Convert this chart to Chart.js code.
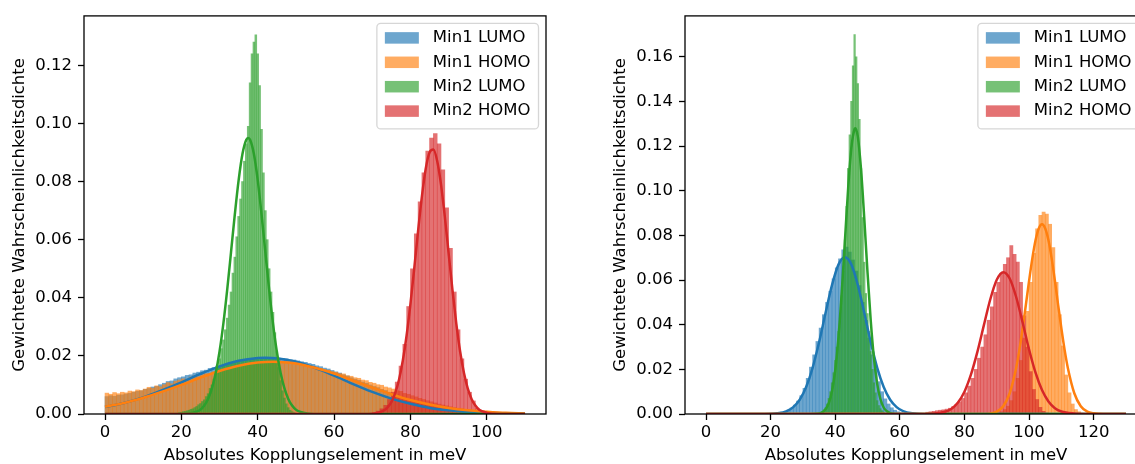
<!DOCTYPE html>
<html>
<head>
<meta charset="utf-8">
<script src="https://cdn.jsdelivr.net/npm/chart.js@4.4.1/dist/chart.umd.min.js"></script>
<style>
  html, body { margin: 0; padding: 0; background: #fff; overflow: hidden; width: 1135px; height: 464px; }
  canvas { position: absolute; top: 0; }
  #leftPanel { left: 0; }
  #rightPanel { left: 601px; }
</style>
</head>
<body>
<canvas id="leftPanel" width="567" height="464"></canvas>
<canvas id="rightPanel" width="567" height="464"></canvas>
<script>
// ---- labels ----
const seriesLabels = ['Min1 LUMO', 'Min1 HOMO', 'Min2 LUMO', 'Min2 HOMO'];
const xTitle = 'Absolutes Kopplungselement in meV';
const yTitle = 'Gewichtete Wahrscheinlichkeitsdichte';

// ---- tick labels ----
const leftXTicks = [0, 20, 40, 60, 80, 100];
const leftYTicks = [0, 0.02, 0.04, 0.06, 0.08, 0.10, 0.12];
const rightXTicks = [0, 20, 40, 60, 80, 100, 120];
const rightYTicks = [0, 0.02, 0.04, 0.06, 0.08, 0.10, 0.12, 0.14, 0.16];

// ---- histogram densities: lower edge of first bin, bin width (meV), values ----
const leftMin1LumoStart = 0, leftMin1LumoBin = 1;
const leftMin1Lumo = [
  0.0060,0.0063,0.0061,0.0065,0.0066, 0.0069,0.0071,0.0075,0.0078,0.0080,
  0.0085,0.0088,0.0093,0.0095,0.0101, 0.0106,0.0112,0.0114,0.0121,0.0125,
  0.0128,0.0133,0.0135,0.0141,0.0144, 0.0149,0.0151,0.0157,0.0160,0.0165,
  0.0166,0.0171,0.0173,0.0177,0.0178, 0.0182,0.0185,0.0186,0.0189,0.0190,
  0.0191,0.0193,0.0192,0.0194,0.0193, 0.0192,0.0191,0.0190,0.0187,0.0186,
  0.0183,0.0180,0.0178,0.0174,0.0171, 0.0166,0.0163,0.0158,0.0155,0.0150,
  0.0145,0.0141,0.0135,0.0131,0.0125, 0.0120,0.0116,0.0110,0.0106,0.0100,
  0.0095,0.0091,0.0085,0.0081,0.0075, 0.0070,0.0066,0.0060,0.0056,0.0050,
  0.0046,0.0042,0.0038,0.0034,0.0030, 0.0027,0.0024,0.0021,0.0018,0.0016,
  0.0014,0.0012,0.0010,0.0008,0.0007, 0.0006,0.0005,0.0004,0.0003,0.0002
];
const leftMin1HomoStart = 0, leftMin1HomoBin = 1;
const leftMin1Homo = [
  0.0072,0.0068,0.0074,0.0070,0.0075, 0.0073,0.0079,0.0077,0.0083,0.0081,
  0.0086,0.0092,0.0089,0.0097,0.0094, 0.0101,0.0108,0.0104,0.0113,0.0117,
  0.0121,0.0119,0.0127,0.0131,0.0129, 0.0136,0.0139,0.0137,0.0145,0.0148,
  0.0150,0.0155,0.0153,0.0160,0.0162, 0.0165,0.0166,0.0170,0.0171,0.0174,
  0.0173,0.0177,0.0176,0.0179,0.0177, 0.0178,0.0175,0.0177,0.0174,0.0172,
  0.0171,0.0167,0.0168,0.0163,0.0162, 0.0158,0.0157,0.0152,0.0151,0.0146,
  0.0144,0.0139,0.0138,0.0132,0.0130, 0.0125,0.0123,0.0117,0.0115,0.0109,
  0.0106,0.0101,0.0099,0.0093,0.0090, 0.0086,0.0080,0.0078,0.0071,0.0068,
  0.0063,0.0059,0.0054,0.0050,0.0046, 0.0042,0.0038,0.0034,0.0031,0.0028,
  0.0025,0.0022,0.0020,0.0018,0.0016, 0.0014,0.0012,0.0011,0.0010,0.0009,
  0.0008,0.0007,0.0006,0.0006,0.0005, 0.0005,0.0004,0.0004,0.0003,0.0003
];
const leftMin2LumoStart = 17.75, leftMin2LumoBin = 0.5;
const leftMin2Lumo = [
  0.0002,0.0002,0.0003,0.0005,0.0006,0.0008,0.0009,0.0011,0.0013,0.0016,
  0.0018,0.0022,0.0026,0.0032,0.0036,0.0043,0.0049,0.0060,0.0070,0.0088,
  0.0100,0.0120,0.0138,0.0162,0.0190,0.0225,0.0255,0.0290,0.0330,0.0375,
  0.0420,0.0485,0.0540,0.0610,0.0680,0.0740,0.0800,0.0870,0.0930,0.0990,
  0.1140,0.1240,0.1280,0.1305,0.1240,0.1130,0.0980,0.0830,0.0700,0.0600,
  0.0500,0.0420,0.0350,0.0280,0.0215,0.0160,0.0115,0.0080,0.0055,0.0035,
  0.0022,0.0013,0.0008,0.0005,0.0002
];
const leftMin2HomoStart = 70, leftMin2HomoBin = 1;
const leftMin2Homo = [
  0.0005,0.0010,0.0018,0.0030,0.0050,0.0075,0.0110,0.0165,0.0240,0.0370,
  0.0500,0.0620,0.0730,0.0830,0.0905,0.0950,0.0965,0.0930,0.0840,0.0710,
  0.0570,0.0420,0.0290,0.0190,0.0120,0.0075,0.0045,0.0020,0.0008,0.0003
];

const rightMin1LumoStart = 21, rightMin1LumoBin = 1;
const rightMin1Lumo = [
  0.0002,0.0005,0.0008,0.0012,0.0018,0.0027,0.0040,0.0058,0.0082,0.0115,
  0.0160,0.0210,0.0265,0.0325,0.0385,0.0445,0.0500,0.0550,0.0605,0.0655,
  0.0695,0.0735,0.0748,0.0725,0.0690,0.0640,0.0575,0.0500,0.0420,0.0340,
  0.0265,0.0200,0.0145,0.0100,0.0068,0.0045,0.0028,0.0017,0.0010,0.0006,
  0.0003,0.0001
];
const rightMin1HomoStart = 90, rightMin1HomoBin = 1;
const rightMin1Homo = [
  0.0005,0.0010,0.0020,0.0035,0.0060,0.0100,0.0160,0.0240,0.0340,0.0460,
  0.0590,0.0720,0.0830,0.0890,0.0905,0.0895,0.0850,0.0745,0.0590,0.0445,
  0.0305,0.0175,0.0095,0.0045,0.0020,0.0010,0.0004,0.0002
];
const rightMin2LumoStart = 34.75, rightMin2LumoBin = 0.5;
const rightMin2Lumo = [
  0.0004,0.0007,0.0012,0.0019,0.0028,0.0045,0.0070,0.0100,0.0140,0.0185,
  0.0240,0.0300,0.0370,0.0440,0.0530,0.0640,0.0780,0.0930,0.1100,0.1250,
  0.1400,0.1560,0.1700,0.1600,0.1480,0.1320,0.1100,0.0880,0.0680,0.0540,
  0.0450,0.0370,0.0280,0.0200,0.0140,0.0095,0.0060,0.0038,0.0024,0.0015,
  0.0009,0.0005,0.0003,0.0002,0.0001
];
const rightMin2HomoStart = 68, rightMin2HomoBin = 1;
const rightMin2Homo = [
  0.0008,0.0010,0.0012,0.0015,0.0017,0.0019,0.0022,0.0026,0.0033,0.0043,
  0.0055,0.0070,0.0095,0.0125,0.0160,0.0200,0.0250,0.0300,0.0355,0.0420,
  0.0480,0.0545,0.0590,0.0630,0.0670,0.0700,0.0755,0.0715,0.0680,0.0590,
  0.0440,0.0300,0.0190,0.0110,0.0065,0.0030,0.0012,0.0005
];

// ---- fitted density curves, [meV, density] ----
const leftFitMin1Lumo = [[0,0.0024],[5,0.0038],[10,0.0057],[15,0.0082],[20,0.0109],[25,0.0138],[30,0.0164],[35,0.0183],[40,0.0193],[42,0.0194],[45,0.0192],[50,0.0180],[55,0.0159],[60,0.0132],[65,0.0103],[70,0.0076],[75,0.0053],[80,0.0035],[85,0.0021],[90,0.0013],[95,0.0007],[100,0.0004],[105,0.0002],[110,0.0001]];
const leftFitMin1Homo = [[0,0.0025],[5,0.0038],[10,0.0056],[15,0.0077],[20,0.0100],[25,0.0125],[30,0.0148],[35,0.0166],[40,0.0177],[44,0.0180],[48,0.0177],[50,0.0174],[55,0.0159],[60,0.0139],[65,0.0115],[70,0.0091],[75,0.0068],[80,0.0048],[85,0.0033],[90,0.0021],[95,0.0013],[100,0.0008],[105,0.0004],[110,0.0002]];
const leftFitMin2Lumo = [[0,0],[18,0],[22,0.0002],[24,0.0008],[25,0.0015],[26,0.0029],[27,0.0052],[28,0.0088],[29,0.0141],[30,0.0215],[31,0.0311],[32,0.0427],[33,0.0556],[34,0.0687],[35,0.0805],[36,0.0895],[37,0.0944],[37.5,0.0950],[38,0.0944],[39,0.0895],[40,0.0805],[41,0.0687],[42,0.0556],[43,0.0427],[44,0.0311],[45,0.0215],[46,0.0141],[47,0.0088],[48,0.0052],[49,0.0029],[50,0.0015],[51,0.0008],[53,0.0002],[57,0],[110,0]];
const leftFitMin2Homo = [[0,0],[66,0],[71,0.0003],[73,0.0012],[74,0.0023],[75,0.0041],[76,0.0072],[77,0.0118],[78,0.0184],[79,0.0271],[80,0.0379],[81,0.0502],[82,0.0630],[83,0.0749],[84,0.0844],[85,0.0900],[86,0.0910],[87,0.0871],[88,0.0790],[89,0.0679],[90,0.0553],[91,0.0427],[92,0.0312],[93,0.0216],[94,0.0142],[95,0.0088],[96,0.0052],[97,0.0029],[98,0.0015],[100,0.0004],[103,0],[110,0]];

const rightFitMin1Lumo = [[0,0],[18,0],[22,0.0003],[25,0.0013],[27,0.0031],[29,0.0064],[31,0.0121],[33,0.0207],[35,0.0321],[37,0.0452],[39,0.0577],[41,0.0669],[43,0.0702],[45,0.0669],[47,0.0577],[49,0.0452],[51,0.0321],[53,0.0207],[55,0.0121],[57,0.0064],[59,0.0031],[61,0.0013],[64,0.0003],[68,0],[130,0]];
const rightFitMin1Homo = [[0,0],[86,0],[90,0.0011],[92,0.0035],[94,0.0093],[96,0.0206],[97,0.0287],[98,0.0383],[99,0.0488],[100,0.0596],[101,0.0696],[102,0.0778],[103,0.0831],[104,0.0850],[105,0.0831],[106,0.0778],[107,0.0696],[108,0.0596],[109,0.0488],[110,0.0383],[111,0.0287],[112,0.0206],[114,0.0093],[116,0.0035],[118,0.0011],[120,0.0003],[123,0],[130,0]];
const rightFitMin2Lumo = [[0,0],[30,0],[34,0.0001],[36,0.0008],[37,0.0021],[38,0.0048],[39,0.0102],[40,0.0196],[41,0.0342],[42,0.0541],[43,0.0776],[44,0.1011],[45,0.1193],[46,0.1277],[46.2,0.1280],[47,0.1241],[48,0.1093],[49,0.0873],[50,0.0632],[51,0.0416],[52,0.0248],[53,0.0134],[54,0.0066],[55,0.0029],[56,0.0012],[57,0.0004],[59,0],[130,0]];
const rightFitMin2Homo = [[0,0],[66,0],[70,0.0001],[74,0.0010],[76,0.0024],[78,0.0052],[80,0.0100],[82,0.0176],[84,0.0278],[86,0.0397],[88,0.0514],[90,0.0601],[92,0.0635],[94,0.0607],[96,0.0524],[98,0.0410],[100,0.0289],[102,0.0185],[104,0.0107],[106,0.0056],[108,0.0026],[110,0.0011],[114,0.0002],[118,0],[130,0]];

// ---- styling ----
const FONT = 'DejaVu Sans';
const FONT_SIZE = 16.5;
const seriesRgb = ['31,119,180', '255,127,14', '44,160,44', '214,39,40'];
const HIST_ALPHA = 0.65;

Chart.defaults.font.family = FONT;
Chart.defaults.font.size = FONT_SIZE;
Chart.defaults.color = '#000';

function histPoints(start, width, values) {
  return values.map((v, i) => ({ x: start + (i + 0.5) * width, y: v }));
}
function curvePoints(pairs) {
  return pairs.map(([x, y]) => ({ x, y }));
}

// axes frame and the boxed legend in the upper right corner
const frameAndLegend = {
  id: 'frameAndLegend',
  afterDraw(chart) {
    const { ctx, chartArea: a } = chart;
    ctx.save();
    ctx.lineWidth = 1.3;
    ctx.strokeStyle = '#000';
    ctx.strokeRect(a.left, a.top, a.right - a.left, a.bottom - a.top);

    ctx.font = FONT_SIZE + 'px "' + FONT + '"';
    const bars = chart.data.datasets.filter(d => d.type === 'bar');
    const textW = Math.max(...bars.map(d => ctx.measureText(d.label).width));
    const w = 8 + 34 + 14 + textW + 8;
    const h = 105.5;
    const x0 = a.right - 7.5 - w;
    const y0 = a.top + 7.5;
    const r = 4;
    ctx.beginPath();
    ctx.moveTo(x0 + r, y0);
    ctx.lineTo(x0 + w - r, y0);
    ctx.arcTo(x0 + w, y0, x0 + w, y0 + r, r);
    ctx.lineTo(x0 + w, y0 + h - r);
    ctx.arcTo(x0 + w, y0 + h, x0 + w - r, y0 + h, r);
    ctx.lineTo(x0 + r, y0 + h);
    ctx.arcTo(x0, y0 + h, x0, y0 + h - r, r);
    ctx.lineTo(x0, y0 + r);
    ctx.arcTo(x0, y0, x0 + r, y0, r);
    ctx.closePath();
    ctx.fillStyle = 'rgba(255,255,255,0.8)';
    ctx.fill();
    ctx.strokeStyle = 'rgba(204,204,204,0.8)';
    ctx.lineWidth = 1.3;
    ctx.stroke();

    ctx.textBaseline = 'middle';
    ctx.textAlign = 'left';
    bars.forEach((d, i) => {
      const cy = a.top + 22 + i * 24.4;
      ctx.fillStyle = d.backgroundColor;
      ctx.fillRect(x0 + 8, cy - 5.75, 34, 11.5);
      ctx.fillStyle = '#000';
      ctx.fillText(d.label, x0 + 56, cy);
    });
    ctx.restore();
  }
};

function makePanel(canvasId, hists, fits, xMin, xMax, yMax, xTicks, yTicks) {
  const datasets = [];
  const n = hists.length;
  // the bar ruler uses the narrowest bin spacing of the panel; wider bins scale up from it
  const narrowest = Math.min(...hists.map(h => h.width));
  hists.forEach((h, i) => {
    datasets.push({
      type: 'bar',
      label: seriesLabels[i],
      data: histPoints(h.start, h.width, h.values),
      backgroundColor: 'rgba(' + seriesRgb[i] + ',' + HIST_ALPHA + ')',
      borderWidth: 0,
      grouped: false,
      barPercentage: h.width / narrowest,
      categoryPercentage: 1,
      inflateAmount: 0.3,
      order: 2 * n - i
    });
  });
  fits.forEach((f, i) => {
    datasets.push({
      type: 'line',
      label: seriesLabels[i] + ' Fit',
      data: curvePoints(f),
      borderColor: 'rgb(' + seriesRgb[i] + ')',
      borderWidth: 2.5,
      pointRadius: 0,
      fill: false,
      cubicInterpolationMode: 'monotone',
      order: n - i
    });
  });

  const tickGrid = {
    display: true,
    drawOnChartArea: false,
    drawTicks: true,
    tickLength: 6,
    tickWidth: 1.3,
    tickColor: '#000',
    offset: false
  };

  return new Chart(document.getElementById(canvasId), {
    type: 'bar',
    data: { datasets },
    options: {
      responsive: false,
      animation: false,
      devicePixelRatio: 1,
      layout: { padding: { left: 0, right: 21, top: 14, bottom: 0 } },
      plugins: { legend: { display: false }, tooltip: { enabled: false } },
      scales: {
        x: {
          type: 'linear',
          min: xMin,
          max: xMax,
          offset: false,
          grid: tickGrid,
          border: { display: false },
          ticks: {
            padding: 3.3,
            autoSkip: false,
            maxRotation: 0,
            minRotation: 0,
            color: '#000',
            callback: v => String(v)
          },
          afterBuildTicks: s => { s.ticks = xTicks.map(v => ({ value: v })); },
          afterFit: s => { s.height = 50; },
          title: {
            display: true,
            text: xTitle,
            color: '#000',
            font: { size: FONT_SIZE, lineHeight: 1 },
            padding: 0
          }
        },
        y: {
          type: 'linear',
          min: 0,
          max: yMax,
          grid: tickGrid,
          border: { display: false },
          ticks: {
            padding: 6,
            autoSkip: false,
            color: '#000',
            callback: v => v.toFixed(2)
          },
          afterBuildTicks: s => { s.ticks = yTicks.map(v => ({ value: v })); },
          afterFit: s => { s.width = 84; },
          title: {
            display: true,
            text: yTitle,
            color: '#000',
            font: { size: FONT_SIZE, lineHeight: 1 },
            padding: { top: 11, bottom: 0 }
          }
        }
      }
    },
    plugins: [frameAndLegend]
  });
}

makePanel('leftPanel',
  [
    { start: leftMin1LumoStart, width: leftMin1LumoBin, values: leftMin1Lumo },
    { start: leftMin1HomoStart, width: leftMin1HomoBin, values: leftMin1Homo },
    { start: leftMin2LumoStart, width: leftMin2LumoBin, values: leftMin2Lumo },
    { start: leftMin2HomoStart, width: leftMin2HomoBin, values: leftMin2Homo }
  ],
  [leftFitMin1Lumo, leftFitMin1Homo, leftFitMin2Lumo, leftFitMin2Homo],
  -5.5, 115.5, 0.137, leftXTicks, leftYTicks);

makePanel('rightPanel',
  [
    { start: rightMin1LumoStart, width: rightMin1LumoBin, values: rightMin1Lumo },
    { start: rightMin1HomoStart, width: rightMin1HomoBin, values: rightMin1Homo },
    { start: rightMin2LumoStart, width: rightMin2LumoBin, values: rightMin2Lumo },
    { start: rightMin2HomoStart, width: rightMin2HomoBin, values: rightMin2Homo }
  ],
  [rightFitMin1Lumo, rightFitMin1Homo, rightFitMin2Lumo, rightFitMin2Homo],
  -6.5, 136.5, 0.1783, rightXTicks, rightYTicks);
</script>
</body>
</html>
